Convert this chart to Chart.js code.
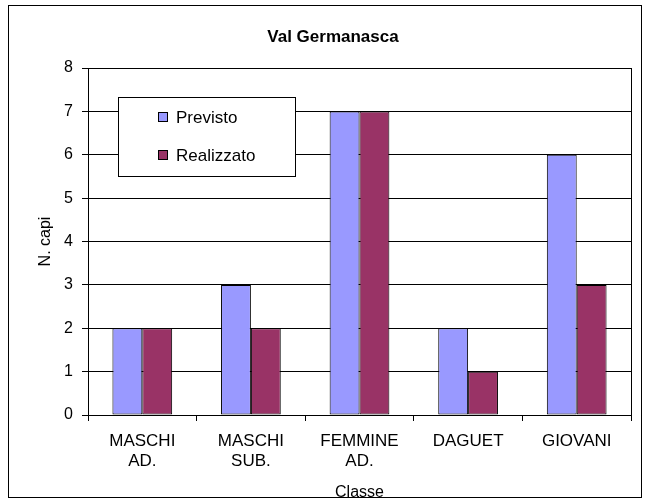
<!DOCTYPE html>
<html><head><meta charset="utf-8">
<script src="https://cdn.jsdelivr.net/npm/chart.js@4/dist/chart.umd.min.js"></script>
<style>html,body{margin:0;padding:0;background:#fff;}#wrap{width:650px;height:504px;}</style>
</head><body><div id="wrap"><canvas id="c" width="650" height="504"></canvas></div>
<script>
const chartTitle = "Val Germanasca";
const categories = [["MASCHI","AD."],["MASCHI","SUB."],["FEMMINE","AD."],["DAGUET"],["GIOVANI"]];
const seriesNames = ["Previsto","Realizzato"];
const previsto = [2,3,7,2,6];
const realizzato = [2,2,7,1,3];
const yTicks = [0,1,2,3,4,5,6,7,8];
const xTitle = "Classe";
const yTitle = "N. capi";

const FONT = "'Liberation Sans', Arial, sans-serif";

const framePlugin = {
  id:'frame',
  afterDraw(chart){
    const ctx = chart.ctx, a = chart.chartArea;
    ctx.save();
    ctx.strokeStyle = '#000'; ctx.lineWidth = 1;
    ctx.strokeRect(8.5,5.5,633,492);
    ctx.strokeRect(Math.round(a.left)+0.5, Math.round(a.top)+0.5, Math.round(a.right-a.left), Math.round(a.bottom-a.top));
    ctx.fillStyle = '#000';
    ctx.font = "bold 17px " + FONT;
    ctx.textAlign='center'; ctx.textBaseline='middle';
    ctx.fillText(chartTitle, 333, 37);
    // legend
    ctx.fillStyle='#fff';
    ctx.fillRect(118,97,177,79);
    ctx.strokeStyle='#000';
    ctx.strokeRect(118.5,97.5,177,79);
    ctx.font = "17px " + FONT;
    ctx.textAlign='left';
    chart.data.datasets.forEach((ds,i)=>{
      const cy = 117 + i*38;
      ctx.fillStyle = ds.backgroundColor;
      ctx.fillRect(158,cy-4,9,9);
      ctx.strokeStyle='#000';
      ctx.strokeRect(158.5,cy-4.5,9,9);
      ctx.fillStyle='#000';
      ctx.fillText(ds.label,176,cy+1);
    });
    ctx.restore();
  }
};

new Chart(document.getElementById('c'), {
  type:'bar',
  data:{
    labels: categories,
    datasets:[
      {label:seriesNames[0], data:previsto, backgroundColor:'#9999FF', borderColor:'#000', borderWidth:1, borderSkipped:false, categoryPercentage:0.55, barPercentage:1},
      {label:seriesNames[1], data:realizzato, backgroundColor:'#993366', borderColor:'#000', borderWidth:1, borderSkipped:false, categoryPercentage:0.55, barPercentage:1}
    ]
  },
  options:{
    responsive:false, animation:false,
    layout:{padding:{top:68,left:36,right:19,bottom:0}},
    plugins:{legend:{display:false}, title:{display:false}, tooltip:{enabled:false}},
    scales:{
      x:{
        grid:{display:true, drawOnChartArea:false, offset:true, color:'#000', tickLength:6},
        border:{color:'#000'},
        ticks:{color:'#000', font:{family:FONT,size:17}, padding:10, maxRotation:0, autoSkip:false},
        title:{display:true, text:xTitle, color:'#000', font:{family:FONT,size:16}, padding:{top:2,bottom:2}},
        afterFit(s){ s.height = 89; }
      },
      y:{
        min:0, max:8,
        afterBuildTicks(s){ s.ticks = yTicks.map(v=>({value:v})); },
        grid:{color:'#000', tickLength:6},
        border:{color:'#000'},
        ticks:{color:'#000', font:{family:FONT,size:16}, padding:9},
        title:{display:true, text:yTitle, color:'#000', font:{family:FONT,size:16}, padding:{top:0,bottom:0}},
        afterFit(s){ s.width = 52; }
      }
    }
  },
  plugins:[framePlugin]
});
</script></body></html>
